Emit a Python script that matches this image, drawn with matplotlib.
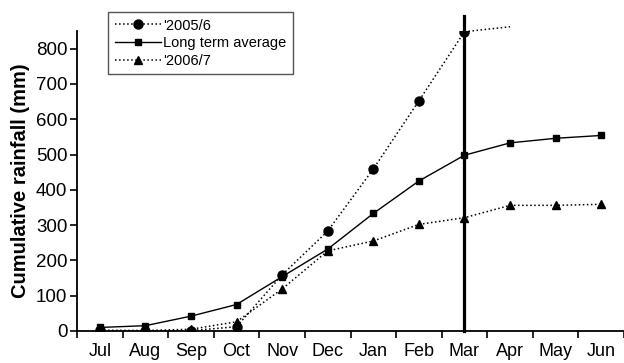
import numpy as np
import matplotlib
matplotlib.use('Agg')
import matplotlib.pyplot as plt

plt.rcParams['font.family'] = ['Liberation Sans', 'DejaVu Sans']

months = ['Jul', 'Aug', 'Sep', 'Oct', 'Nov', 'Dec', 'Jan', 'Feb', 'Mar', 'Apr', 'May', 'Jun']
# 2005/6 season: markers up to Mar, then dotted tail without markers
rain_0506 = [2, 1, 1, 12, 159, 283, 459, 652, 848]
rain_0506_tail = [848, 862]
long_term = [10, 15, 42, 75, 154, 232, 333, 425, 498, 533, 546, 554]
rain_0607 = [1, 1, 5, 26, 119, 227, 255, 302, 321, 356, 356, 359]
mar_line_top = 892

x = np.arange(len(months))

fig = plt.figure(figsize=(6.24, 3.63), dpi=100)
ax = fig.add_axes([0.1234, 0.0882, 0.8766, 0.8264])

ax.plot(x[:len(rain_0506)], rain_0506, color='black', ls=':', lw=1.1,
        marker='o', ms=6.5, label="'2005/6")
ax.plot(x[8:8 + len(rain_0506_tail)], rain_0506_tail, color='black', ls=':',
        lw=1.1, clip_on=False)
ax.plot(x, long_term, color='black', ls='-', lw=1.0, marker='s', ms=4.5,
        label='Long term average')
ax.plot(x, rain_0607, color='black', ls=':', lw=1.1, marker='^', ms=5.5,
        label="'2006/7")

ax.axvline(8, ymin=0, ymax=mar_line_top / 850, color='black', lw=2.3, clip_on=False)

ax.set_xlim(-0.5, 11.5)
ax.set_ylim(0, 850)
ax.set_yticks(np.arange(0, 801, 100))
ax.set_xticks(x)
ax.set_xticklabels(months)
ax.set_xticks(np.arange(-0.5, 12, 1), minor=True)
ax.tick_params(axis='x', which='major', length=0, labelsize=13, pad=9)
ax.tick_params(axis='x', which='minor', length=5, width=1.2, direction='out')
ax.tick_params(axis='y', length=5, width=1.2, direction='out', labelsize=13.5, pad=2)

for s in ['top', 'right']:
    ax.spines[s].set_visible(False)
for s in ['left', 'bottom']:
    ax.spines[s].set_linewidth(1.3)

ax.set_ylabel('Cumulative rainfall (mm)', fontsize=14.5, fontweight='bold', labelpad=4)

leg = ax.legend(loc='upper left', bbox_to_anchor=(108 / 624, 1 - 12 / 363),
                bbox_transform=fig.transFigure, borderaxespad=0, fontsize=10.5,
                numpoints=1, handlelength=3.2, handletextpad=0.1,
                labelspacing=0.25, borderpad=0.45, fancybox=False, framealpha=1)
leg.get_frame().set_edgecolor('#555555')
leg.get_frame().set_linewidth(1.0)

fig.savefig('out.png', dpi=100)
